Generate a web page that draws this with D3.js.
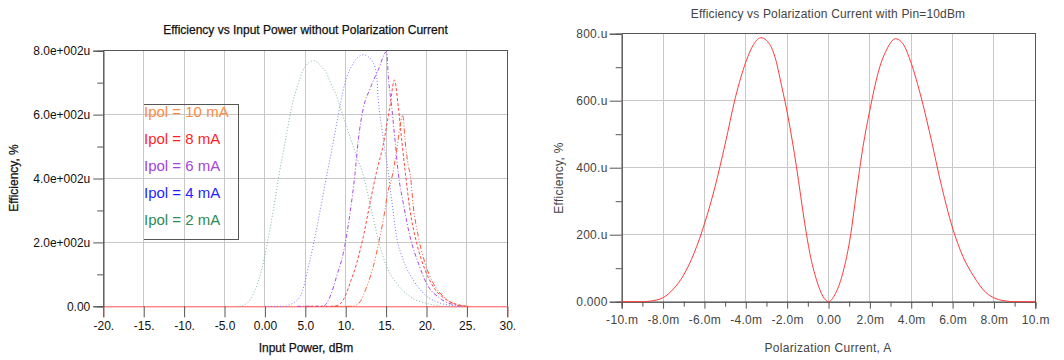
<!DOCTYPE html>
<html>
<head>
<meta charset="utf-8">
<script src="https://cdn.jsdelivr.net/npm/d3@7"></script>
<style>
  html, body { margin: 0; padding: 0; background: #fff; }
  svg { display: block; font-family: "Liberation Sans", Arial, sans-serif; }
</style>
</head>
<body>
<svg id="chart" width="1064" height="360"></svg>
<script>
// ---- Left panel: efficiency (u%) vs input power (dBm) for several polarization currents ----
const pinTicks = [-20, -15, -10, -5, 0, 5, 10, 15, 20, 25, 30];
const pinTickLabels = ["-20.", "-15.", "-10.", "-5.0", "0.00", "5.0", "10.", "15.", "20.", "25.", "30."];
const effTicksLeft = [0, 200, 400, 600, 800];
const effTickLabelsLeft = ["0.00", "2.0e+002u", "4.0e+002u", "6.0e+002u", "8.0e+002u"];
const effMinorTicks = [100, 300, 500, 700];

const ipolLabels = ["Ipol = 10 mA", "Ipol = 8 mA", "Ipol = 6 mA", "Ipol = 4 mA", "Ipol = 2 mA"];

const pin2mA = [-3.5, -3.3, -2.26, -1.23, -0.4, 0.22, 1.04, 1.74, 2.08, 2.7, 3.32, 4.14, 4.96, 6.08, 7.0, 7.65, 8.06, 8.89, 9.29, 10.12, 11.36, 12.18, 13.0, 14.25, 15.07, 16.3, 17.96, 20.0, 21.2, 22.0, 23.0];
const eff2mA = [0, 0, 9, 51, 114, 187, 301, 410, 458, 541, 625, 698, 750, 769, 750, 729, 703, 656, 625, 562, 468, 410, 322, 187, 124, 72, 30, 9, 3, 0, 0];

const pin4mA = [0, 2.5, 2.9, 4.34, 5.58, 6.61, 7.65, 8.27, 8.89, 9.9, 10.94, 12.18, 13.2, 13.8, 14.03, 14.45, 14.86, 15.27, 15.69, 16.3, 17.13, 18.37, 19.6, 21.26, 23.3, 24.0];
const eff4mA = [0, 0, 3, 30, 145, 270, 410, 489, 573, 698, 761, 787, 771, 729, 646, 562, 489, 420, 333, 218, 145, 82, 41, 14, 2, 0];

const pin6mA = [4.0, 6.5, 7.23, 8.06, 8.89, 9.7, 10.53, 11.15, 11.56, 12.18, 13.0, 14.03, 15.07, 15.27, 15.69, 16.1, 16.51, 17.13, 17.96, 18.99, 20.0, 21.67, 23.7, 24.5];
const eff6mA = [0, 0, 1, 30, 95, 166, 291, 415, 521, 620, 680, 740, 797, 719, 625, 521, 416, 322, 218, 135, 72, 25, 3, 0];

const pin8mA = [5.0, 8.0, 8.9, 9.7, 10.53, 11.36, 12.18, 13.0, 13.9, 14.6, 15.1, 15.5, 16.02, 16.51, 16.93, 17.34, 17.96, 18.79, 19.82, 20.84, 22.5, 24.5, 25.0];
const eff8mA = [0, 0, 2, 20, 72, 135, 218, 322, 430, 500, 570, 630, 708, 625, 521, 427, 301, 197, 114, 61, 20, 2, 0];

const pin10mA = [8.5, 10.5, 11.0, 11.77, 12.6, 13.41, 14.24, 14.65, 15.27, 15.69, 16.31, 16.72, 17.05, 17.34, 17.75, 18.0, 18.37, 18.99, 19.82, 20.84, 22.1, 23.7, 24.5, 25.5];
const eff10mA = [0, 0, 1, 14, 61, 124, 218, 270, 364, 400, 489, 562, 599, 521, 440, 410, 312, 218, 135, 72, 30, 5, 1, 0];

// ---- Right panel: efficiency (u%) vs polarization current (mA) at Pin = 10 dBm ----
const ipolTicks = [-10, -8, -6, -4, -2, 0, 2, 4, 6, 8, 10];
const ipolTickLabels = ["-10.m", "-8.0m", "-6.0m", "-4.0m", "-2.0m", "0.00", "2.0m", "4.0m", "6.0m", "8.0m", "10.m"];
const ipolMinorTicks = [-9, -7, -5, -3, -1, 1, 3, 5, 7, 9];
const effTicksRight = [0, 200, 400, 600, 800];
const effTickLabelsRight = ["0.000", "200.u", "400.u", "600.u", "800.u"];

const ipolSweep = [-10, -9.0, -8.6, -8.0, -7.5, -7.0, -6.5, -6.0, -5.5, -5.0, -4.5, -4.0, -3.6, -3.27, -3.0, -2.6, -2.27, -1.95, -1.55, -1.15, -0.9, -0.58, -0.26, 0, 0.3, 0.63, 1.03, 1.43, 1.67, 2.0, 2.48, 2.8, 3.24, 3.6, 4.0, 4.5, 5.0, 5.4, 6.0, 6.5, 7.0, 7.6, 8.1, 8.6, 9.0, 10];
const effSweep = [0, 0, 2, 12, 38, 80, 145, 232, 340, 470, 610, 715, 770, 788, 780, 733, 645, 550, 403, 234, 144, 65, 15, 0, 20, 72, 184, 363, 463, 572, 701, 751, 785, 770, 712, 605, 475, 363, 220, 135, 78, 28, 9, 2, 0, 0];

const svg = d3.select("#chart");
const gridColor = "#c8c8c8";
const axisColor = "#555";
const zip = (a, b) => a.map((v, i) => [v, b[i]]);

// ================= Left panel =================
const xL = d3.scaleLinear().domain([-20, 30]).range([103.3, 507.3]);
const yL = d3.scaleLinear().domain([0, 800]).range([306.3, 50.7]);
const left = svg.append("g");

// grid
left.append("g").selectAll("line").data(pinTicks.slice(1, -1)).join("line")
  .attr("x1", d => xL(d)).attr("x2", d => xL(d))
  .attr("y1", yL(0)).attr("y2", yL(800))
  .attr("stroke", gridColor).attr("shape-rendering", "crispEdges");
left.append("g").selectAll("line").data(effTicksLeft.slice(1, -1)).join("line")
  .attr("x1", xL(-20)).attr("x2", xL(30))
  .attr("y1", d => yL(d)).attr("y2", d => yL(d))
  .attr("stroke", gridColor).attr("shape-rendering", "crispEdges");

// frame (top, right)
left.append("path")
  .attr("d", `M${xL(-20)},${yL(800)}H${xL(30)}V${yL(0)}`)
  .attr("fill", "none").attr("stroke", axisColor).attr("shape-rendering", "crispEdges");

// axes
const styleAxis = (g, color) => {
  g.selectAll(".domain").attr("stroke", color);
  g.selectAll(".tick line").attr("stroke", axisColor);
  g.selectAll("text").attr("fill", "#111").attr("font-size", 12)
    .attr("font-family", "Liberation Sans, Arial, sans-serif");
};

left.append("g").attr("transform", `translate(${xL(-20)},0)`)
  .call(d3.axisLeft(yL).tickValues(effMinorTicks).tickSize(6).tickFormat(""))
  .call(g => styleAxis(g, axisColor));
left.append("g").attr("transform", `translate(${xL(-20)},0)`)
  .call(d3.axisLeft(yL).tickValues(effTicksLeft).tickSize(10).tickPadding(3)
    .tickFormat((d, i) => effTickLabelsLeft[i]))
  .call(g => styleAxis(g, axisColor));
left.append("g").attr("transform", `translate(0,${yL(0)})`)
  .call(d3.axisBottom(xL).tickValues(pinTicks).tickSize(11).tickPadding(4)
    .tickFormat((d, i) => pinTickLabels[i]))
  .call(g => styleAxis(g, "#ff5050"));

// curves
const lineL = d3.line().x(d => xL(d[0])).y(d => yL(d[1])).curve(d3.curveMonotoneX);
const leftSeries = [
  { pts: zip(pin2mA, eff2mA), color: "#7fb99a", dash: "1,2" },
  { pts: zip(pin4mA, eff4mA), color: "#7a78ff", dash: "1,2" },
  { pts: zip(pin6mA, eff6mA), color: "#a64be6", dash: "4,2,1,2" },
  { pts: zip(pin8mA, eff8mA), color: "#ff4848", dash: "3,2" },
  { pts: zip(pin10mA, eff10mA), color: "#ff5a3c", dash: "5,2,1,2,1,2" }
];
left.append("g").selectAll("path").data(leftSeries).join("path")
  .attr("d", d => lineL(d.pts))
  .attr("fill", "none")
  .attr("stroke", d => d.color)
  .attr("stroke-width", 1)
  .attr("stroke-dasharray", d => d.dash);

// legend
const legendColors = ["#ff8a3d", "#ff1f1f", "#a445dd", "#1f1fff", "#2e8b57"];
const leg = left.append("g");
leg.append("path")
  .attr("d", "M144,104.5H238.5V239.5H144")
  .attr("fill", "none").attr("stroke", axisColor).attr("shape-rendering", "crispEdges");
leg.selectAll("text").data(ipolLabels).join("text")
  .attr("x", 144)
  .attr("y", (d, i) => 117 + i * 26.9)
  .attr("font-size", 15)
  .attr("fill", (d, i) => legendColors[i])
  .text(d => d);

// titles
left.append("text").attr("x", 305.5).attr("y", 34).attr("text-anchor", "middle")
  .attr("font-size", 12).attr("fill", "#111").attr("stroke", "#111").attr("stroke-width", 0.25)
  .text("Efficiency vs Input Power without Polarization Current");
left.append("text").attr("x", 306).attr("y", 352).attr("text-anchor", "middle")
  .attr("font-size", 12).attr("fill", "#111").attr("stroke", "#111").attr("stroke-width", 0.25)
  .text("Input Power, dBm");
left.append("text").attr("transform", "translate(18,178) rotate(-90)").attr("text-anchor", "middle")
  .attr("font-size", 12).attr("fill", "#111").attr("stroke", "#111").attr("stroke-width", 0.25)
  .text("Efficiency, %");

// ================= Right panel =================
const xR = d3.scaleLinear().domain([-10, 10]).range([621.7, 1035.3]);
const yR = d3.scaleLinear().domain([0, 800]).range([301.7, 33.7]);
const right = svg.append("g");
const rText = "#444";

right.append("g").selectAll("line").data(ipolTicks.slice(1, -1)).join("line")
  .attr("x1", d => xR(d)).attr("x2", d => xR(d))
  .attr("y1", yR(0)).attr("y2", yR(800))
  .attr("stroke", gridColor).attr("shape-rendering", "crispEdges");
right.append("g").selectAll("line").data(effTicksRight.slice(1, -1)).join("line")
  .attr("x1", xR(-10)).attr("x2", xR(10))
  .attr("y1", d => yR(d)).attr("y2", d => yR(d))
  .attr("stroke", gridColor).attr("shape-rendering", "crispEdges");

right.append("path")
  .attr("d", `M${xR(-10)},${yR(800)}H${xR(10)}V${yR(0)}`)
  .attr("fill", "none").attr("stroke", axisColor).attr("shape-rendering", "crispEdges");

const styleAxisR = g => {
  g.selectAll(".domain").attr("stroke", axisColor);
  g.selectAll(".tick line").attr("stroke", axisColor);
  g.selectAll("text").attr("fill", rText).attr("font-size", 12).attr("letter-spacing", 0.3)
    .attr("font-family", "Liberation Sans, Arial, sans-serif");
};

right.append("g").attr("transform", `translate(${xR(-10)},0)`)
  .call(d3.axisLeft(yR).tickValues(effMinorTicks).tickSize(6).tickFormat(""))
  .call(styleAxisR);
right.append("g").attr("transform", `translate(${xR(-10)},0)`)
  .call(d3.axisLeft(yR).tickValues(effTicksRight).tickSize(12).tickPadding(2)
    .tickFormat((d, i) => effTickLabelsRight[i]))
  .call(styleAxisR);
right.append("g").attr("transform", `translate(0,${yR(0)})`)
  .call(d3.axisBottom(xR).tickValues(ipolMinorTicks).tickSize(5).tickFormat(""))
  .call(styleAxisR);
right.append("g").attr("transform", `translate(0,${yR(0)})`)
  .call(d3.axisBottom(xR).tickValues(ipolTicks).tickSize(7).tickPadding(7)
    .tickFormat((d, i) => ipolTickLabels[i]))
  .call(styleAxisR);

const lineR = d3.line().x(d => xR(d[0])).y(d => yR(d[1])).curve(d3.curveMonotoneX);
right.append("path")
  .attr("d", lineR(zip(ipolSweep, effSweep)))
  .attr("fill", "none").attr("stroke", "#ff3a3a").attr("stroke-width", 1);

right.append("text").attr("x", 828).attr("y", 17.5).attr("text-anchor", "middle")
  .attr("font-size", 12).attr("fill", rText).attr("letter-spacing", 0.17)
  .text("Efficiency vs Polarization Current with Pin=10dBm");
right.append("text").attr("x", 828).attr("y", 352).attr("text-anchor", "middle")
  .attr("font-size", 12).attr("fill", rText).attr("letter-spacing", 0.3)
  .text("Polarization Current, A");
right.append("text").attr("transform", "translate(563,178) rotate(-90)").attr("text-anchor", "middle")
  .attr("font-size", 12).attr("fill", rText).attr("letter-spacing", 0.3)
  .text("Efficiency, %");
</script>
</body>
</html>
